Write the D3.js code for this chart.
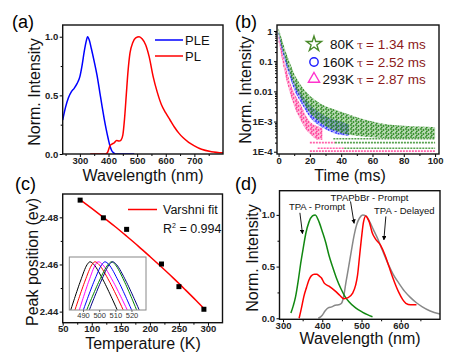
<!DOCTYPE html>
<html>
<head>
<meta charset="utf-8">
<script src="https://cdn.jsdelivr.net/npm/d3@7"></script>
<style>
body { margin: 0; background: #fff; }
svg { font-family: Arial, "Liberation Sans", sans-serif; }
</style>
</head>
<body>
<div id="chart-area"></div>
<script>
/*
*    four panel figure: spectra, decays, peak shift
*/

// (a) excitation / emission spectra
var pleWl  = [240, 250, 260, 270, 280, 290, 300, 308, 315, 322, 327, 333, 340, 350, 360, 370, 378, 385, 392, 399, 405, 411, 418, 425, 490];
var pleInt = [0.29, 0.40, 0.48, 0.53, 0.56, 0.60, 0.66, 0.76, 0.87, 0.96, 1.0, 0.97, 0.90, 0.79, 0.67, 0.52, 0.40, 0.30, 0.21, 0.13, 0.07, 0.03, 0.01, 0, 0];
var plWl  = [336, 390, 398, 405, 412, 420, 428, 437, 444, 450, 456, 462, 468, 475, 485, 495, 507, 518, 530, 542, 556, 570, 585, 600, 615, 630, 645, 660, 680, 700, 725, 760, 800];
var plInt = [0, 0, 0.02, 0.07, 0.085, 0.095, 0.115, 0.11, 0.12, 0.16, 0.30, 0.50, 0.70, 0.86, 0.95, 0.99, 1.0, 0.98, 0.93, 0.83, 0.66, 0.53, 0.42, 0.35, 0.29, 0.23, 0.18, 0.14, 0.10, 0.07, 0.04, 0.02, 0.01];

// (b) decay clouds: time (ms), upper and lower edge of the scatter
var t80  = [0, 1, 2, 4, 6, 8, 10, 13, 16, 20, 25, 30, 35, 40, 50, 60, 70, 80, 90, 100];
var hi80 = [1.25, 0.85, 0.55, 0.26, 0.13, 0.07, 0.038, 0.02, 0.012, 0.0072, 0.0045, 0.0032, 0.0026, 0.0021, 0.0014, 0.001, 0.0008, 0.00072, 0.00068, 0.00065];
var lo80 = [0.85, 0.5, 0.3, 0.13, 0.06, 0.03, 0.016, 0.008, 0.0042, 0.0019, 0.0011, 0.0007, 0.00052, 0.00042, 0.00034, 0.0003, 0.00028, 0.00028, 0.00028, 0.00028];
var t160  = [0, 1, 2, 4, 6, 8, 10, 13, 16, 20, 25, 30, 35, 40, 45];
var hi160 = [1.0, 0.6, 0.4, 0.17, 0.08, 0.04, 0.022, 0.011, 0.0065, 0.0036, 0.0022, 0.0015, 0.0012, 0.001, 0.0008];
var lo160 = [0.7, 0.4, 0.25, 0.1, 0.045, 0.022, 0.011, 0.0055, 0.003, 0.0014, 0.0008, 0.00055, 0.00042, 0.00036, 0.00034];
var t293  = [0, 1, 2, 4, 6, 8, 10, 12, 15, 18, 21, 25, 28];
var hi293 = [0.7, 0.45, 0.26, 0.09, 0.035, 0.016, 0.009, 0.0055, 0.003, 0.0014, 0.0009, 0.0007, 0.0006];
var lo293 = [0.45, 0.25, 0.13, 0.04, 0.015, 0.0065, 0.0032, 0.0018, 0.0009, 0.0005, 0.00035, 0.00025, 0.00025];
// count floor rows at the bottom of the decays
var floorLevel = [2.7e-4, 2.0e-4, 2.0e-4, 1.3e-4, 1.3e-4, 1.05e-4];
var floorStart = [35, 20, 36, 25, 42, 20];
var floorEnd   = [100, 36, 100, 42, 100, 100];
var floorSeries = ["80K", "293K", "80K", "293K", "80K", "293K"];
var decayNames = ["80K", "160K", "293K"];
var decayTau = ["1.34", "2.52", "2.87"];

// (c) peak position vs temperature
var tempK = [80, 120, 160, 220, 250, 293];
var peakEv = [2.4873, 2.4798, 2.4749, 2.4602, 2.4506, 2.4410];
var fitT  = [80, 100, 120, 140, 160, 180, 200, 220, 240, 260, 280, 293];
var fitEv = [2.4875, 2.4838, 2.4800, 2.4761, 2.4720, 2.4678, 2.4634, 2.4589, 2.4543, 2.4495, 2.4446, 2.4413];
// inset: normalised spectra near the peak
var insetInt = [0.5, 0.8, 0.97, 1.0, 0.97, 0.8, 0.5];
var insetWl = [
    [482.4, 488.4, 492.5, 494.3, 496.8, 502.8, 511.2],
    [485.0, 491.2, 495.5, 497.4, 500.0, 506.2, 514.9],
    [487.7, 493.6, 497.7, 499.5, 502.2, 508.5, 517.4],
    [490.2, 496.9, 501.6, 503.6, 506.1, 511.9, 520.1],
    [492.3, 500.0, 505.4, 507.7, 510.0, 515.5, 523.2],
    [493.9, 501.2, 506.2, 508.4, 510.8, 516.6, 524.8]
];

// (d) TPA / TPAPbBr spectra
var tpaWl  = [320, 326, 332, 339, 345, 352, 358, 366, 375, 382, 392, 400, 409, 417, 426, 436, 447, 458, 468, 485, 502, 515, 528];
var tpaInt = [0.05, 0.12, 0.21, 0.37, 0.53, 0.69, 0.82, 0.93, 0.99, 1.0, 0.93, 0.84, 0.73, 0.61, 0.50, 0.39, 0.29, 0.21, 0.16, 0.10, 0.06, 0.035, 0.015];
var delWl  = [341, 347, 353, 360, 366, 372, 380, 386, 392, 398, 405, 417, 434, 445, 455, 466, 477, 485, 490, 495, 500, 505, 511, 515, 520, 527, 535, 548, 560, 570, 580, 595, 605, 613, 625, 640];
var delInt = [0.0, 0.10, 0.21, 0.30, 0.37, 0.41, 0.425, 0.425, 0.41, 0.39, 0.34, 0.31, 0.26, 0.22, 0.19, 0.20, 0.24, 0.32, 0.42, 0.60, 0.78, 0.93, 0.99, 0.97, 0.93, 0.83, 0.77, 0.71, 0.61, 0.50, 0.39, 0.25, 0.18, 0.145, 0.13, 0.13];
var pbWl  = [390, 400, 407, 415, 424, 433, 441, 449, 455, 460, 466, 474, 481, 488, 495, 503, 511, 520, 530, 540, 553, 565, 580, 595, 610, 625, 640, 655, 675, 700];
var pbInt = [0, 0.03, 0.07, 0.10, 0.11, 0.125, 0.13, 0.145, 0.22, 0.34, 0.47, 0.65, 0.80, 0.91, 0.97, 1.0, 0.99, 0.94, 0.86, 0.78, 0.66, 0.55, 0.43, 0.34, 0.26, 0.20, 0.15, 0.11, 0.07, 0.04];
var labelText = ["TPA - Prompt", "TPAPbBr - Prompt", "TPA - Delayed"];
var labelWl   = [315, 421, 532];
var labelY    = [1.08, 1.17, 1.04];
var arrowFrom = [[343, 1.02], [472, 1.13], [562, 0.985]];
var arrowTo   = [[349.6, 0.82], [481, 0.92], [557, 0.76]];

var svg = d3.select("#chart-area")
    .append("svg")
    .attr("width", 459)
    .attr("height", 354);

var defs = svg.append("defs");
defs.append("marker")
    .attr("id", "arr")
    .attr("viewBox", "0 0 6 6")
    .attr("refX", 5).attr("refY", 3)
    .attr("markerWidth", 5).attr("markerHeight", 5)
    .attr("orient", "auto")
  .append("path")
    .attr("d", "M0,0 L6,3 L0,6 z")
    .attr("fill", "#000");

function zip(xs, ys) {
    return xs.map((d, i) => [d, ys[i]]);
}

function axes(x, y, opt) {
    var g = svg.append("g");
    var b = y.range()[0], t = y.range()[1];
    var l = x.range()[0], r = x.range()[1];
    var xa = d3.axisBottom(x).tickValues(opt.xt).tickSize(3).tickSizeOuter(0).tickPadding(0);
    if (opt.xf) xa.tickFormat(opt.xf);
    g.append("g").attr("transform", "translate(0," + b + ")").call(xa);
    if (opt.xm) {
        g.append("g").attr("transform", "translate(0," + b + ")")
            .call(d3.axisBottom(x).tickValues(opt.xm).tickSize(2).tickSizeOuter(0).tickFormat(""));
    }
    var ya = d3.axisLeft(y).tickValues(opt.yt).tickSize(3).tickSizeOuter(0).tickPadding(1.5);
    if (opt.yf) ya.tickFormat(opt.yf);
    g.append("g").attr("transform", "translate(" + l + ",0)").call(ya);
    if (opt.ym) {
        g.append("g").attr("transform", "translate(" + l + ",0)")
            .call(d3.axisLeft(y).tickValues(opt.ym).tickSize(2).tickSizeOuter(0).tickFormat(""));
    }
    g.selectAll(".domain").remove();
    g.selectAll(".tick line").attr("stroke", "#000").attr("stroke-width", 1);
    g.selectAll(".tick text")
        .attr("font-size", "9.5px")
        .attr("font-weight", "bold")
        .attr("fill", "#222")
        .attr("font-family", "Arial, 'Liberation Sans', sans-serif");
    // plot frame
    svg.append("rect")
        .attr("x", l).attr("y", t)
        .attr("width", r - l).attr("height", b - t)
        .attr("fill", "none")
        .attr("stroke", "#111")
        .attr("stroke-width", 1.4);
}

function title(x, y, txt, rot) {
    svg.append("text")
        .attr("transform", "translate(" + x + "," + y + ")" + (rot ? " rotate(-90)" : ""))
        .attr("text-anchor", "middle")
        .attr("font-size", "16px")
        .attr("fill", "#111")
        .text(txt);
}

function clip(id, x, y) {
    svg.append("clipPath").attr("id", id)
        .append("rect")
        .attr("x", x.range()[0]).attr("y", y.range()[1])
        .attr("width", x.range()[1] - x.range()[0])
        .attr("height", y.range()[0] - y.range()[1]);
}

// ---------------- (a) ----------------
var ax = d3.scaleLinear().domain([240, 800]).range([62.7, 223]);
var ay = d3.scaleLinear().domain([0, 1.1]).range([154, 25]);
clip("ca", ax, ay);
var aLine = d3.line().x((d) => ax(d[0])).y((d) => ay(d[1])).curve(d3.curveMonotoneX);
var ga = svg.append("g").attr("clip-path", "url(#ca)");
ga.append("path").attr("d", aLine(zip(pleWl, pleInt)))
    .attr("fill", "none").attr("stroke", "#0000ff").attr("stroke-width", 1.5);
ga.append("path").attr("d", aLine(zip(plWl, plInt)))
    .attr("fill", "none").attr("stroke", "#ff0000").attr("stroke-width", 1.5);
axes(ax, ay, {
    xt: [300, 400, 500, 600, 700], xm: [250, 350, 450, 550, 650, 750],
    yt: [0, 0.5, 1.0], ym: [0.25, 0.75], yf: d3.format(".1f")
});
[["PLE", "#0000ff", 40], ["PL", "#ff0000", 56]].forEach((d) => {
    svg.append("line").attr("x1", 155).attr("x2", 183).attr("y1", d[2]).attr("y2", d[2])
        .attr("stroke", d[1]).attr("stroke-width", 1.5);
    svg.append("text").attr("x", 185).attr("y", d[2] + 4.5)
        .attr("font-size", "13px").attr("fill", "#111").text(d[0]);
});
title(40, 92, "Norm. Intensity", true);
title(143, 180.5, "Wavelength (nm)");
svg.append("text").attr("x", 12).attr("y", 28).attr("font-size", "18px").text("(a)");

// ---------------- (b) ----------------
var bx = d3.scaleLinear().domain([-1, 102.5]).range([277, 439]);
var by = d3.scaleLog().domain([8.4e-5, 1.58]).range([154, 25]);
clip("cb", bx, by);
var colB = { "80K": "#2e8b22", "160K": "#2b2bff", "293K": "#ff3c96" };
// speckle texture for the dense scatter clouds
Object.keys(colB).forEach((k) => {
    var p = defs.append("pattern")
        .attr("id", "sp" + k)
        .attr("patternUnits", "userSpaceOnUse")
        .attr("width", 5).attr("height", 4);
    p.append("rect").attr("width", 5).attr("height", 4)
        .attr("fill", colB[k]).attr("fill-opacity", 0.35);
    [[1, 1], [3.5, 2], [1.8, 3.4]].forEach((c) => {
        p.append("circle").attr("cx", c[0]).attr("cy", c[1]).attr("r", 0.9)
            .attr("fill", colB[k]);
    });
});
var gb = svg.append("g").attr("clip-path", "url(#cb)");
var band = d3.area()
    .x((d) => bx(d[0]))
    .y0((d) => by(d[2]))
    .y1((d) => by(d[1]))
    .curve(d3.curveMonotoneX);
var bands = [
    ["293K", t293, hi293, lo293],
    ["160K", t160, hi160, lo160],
    ["80K", t80, hi80, lo80]
];
floorLevel.forEach((lv, i) => {
    gb.append("line")
        .attr("x1", bx(floorStart[i])).attr("x2", bx(floorEnd[i]))
        .attr("y1", by(lv)).attr("y2", by(lv))
        .attr("stroke", colB[floorSeries[i]])
        .attr("stroke-width", 1.6)
        .attr("stroke-dasharray", "2,1")
        .attr("opacity", 0.8);
});
bands.forEach((s) => {
    var pts = s[1].map((t, i) => [t, s[2][i], s[3][i]]);
    gb.append("path").attr("d", band(pts))
        .attr("fill", "url(#sp" + s[0] + ")");
});
axes(bx, by, {
    xt: [0, 20, 40, 60, 80, 100], xm: [10, 30, 50, 70, 90],
    yt: [1, 0.1, 0.01, 1e-3, 1e-4],
    ym: [2e-4, 3e-4, 4e-4, 5e-4, 6e-4, 7e-4, 8e-4, 9e-4, 2e-3, 3e-3, 4e-3, 5e-3, 6e-3, 7e-3, 8e-3, 9e-3,
         0.02, 0.03, 0.04, 0.05, 0.06, 0.07, 0.08, 0.09, 0.2, 0.3, 0.4, 0.5, 0.6, 0.7, 0.8, 0.9],
    yf: (d) => d >= 0.01 ? String(d) : "1E" + Math.round(Math.log10(d))
});
var symB = [d3.symbolStar, d3.symbolCircle, d3.symbolTriangle];
var symCol = ["#4a8a2a", "#1a1aff", "#ff33cc"];
var rowY = [44, 62, 79];
decayNames.forEach((n, i) => {
    svg.append("path")
        .attr("d", d3.symbol().type(symB[i]).size(i == 0 ? 70 : 55)())
        .attr("transform", "translate(314," + rowY[i] + ")")
        .attr("fill", "none").attr("stroke", symCol[i]).attr("stroke-width", 1.4);
    svg.append("text").attr("x", 354).attr("y", rowY[i] + 5)
        .attr("font-size", "13.5px").attr("text-anchor", "end").attr("fill", "#111").text(n);
    var t2 = svg.append("text").attr("x", 357).attr("y", rowY[i] + 5).attr("font-size", "13.5px");
    t2.append("tspan").attr("fill", "#8b1a1a").attr("font-family", "'DejaVu Serif', serif").attr("font-size", "11px").text("\u03c4");
    t2.append("tspan").attr("fill", "#8b1a1a").attr("dx", 3).text("= " + decayTau[i] + " ms");
});
title(251, 90, "Norm. Intensity", true);
title(350, 180.5, "Time (ms)");
svg.append("text").attr("x", 235).attr("y", 28).attr("font-size", "18px").text("(b)");

// ---------------- (c) ----------------
var cx = d3.scaleLinear().domain([50, 325]).range([62.7, 222.5]);
var cy = d3.scaleLinear().domain([2.4353, 2.4899]).range([322.7, 194]);
// inset
var ix = d3.scaleLinear().domain([481.5, 529]).range([69.3, 146]);
var iy = d3.scaleLinear().domain([0.5, 1.05]).range([310, 257]);
clip("ci", ix, iy);
var insetCol = ["#000000", "#ff0000", "#ff00ff", "#0000ff", "#008000", "#000080"];
var gi = svg.append("g").attr("clip-path", "url(#ci)");
var iLine = d3.line().x((d) => ix(d[0])).y((d) => iy(d[1])).curve(d3.curveCatmullRom);
insetWl.forEach((w, i) => {
    gi.append("path").attr("d", iLine(zip(w, insetInt)))
        .attr("fill", "none").attr("stroke", insetCol[i]).attr("stroke-width", 1);
});
svg.append("rect")
    .attr("x", 69.3).attr("y", 257).attr("width", 146 - 69.3).attr("height", 310 - 257)
    .attr("fill", "none").attr("stroke", "#888").attr("stroke-width", 1);
var gia = svg.append("g").attr("transform", "translate(0,310)")
    .call(d3.axisBottom(ix).tickValues([490, 500, 510, 520]).tickSize(2).tickSizeOuter(0).tickPadding(1));
gia.select(".domain").remove();
gia.selectAll(".tick line").attr("stroke", "#666");
gia.selectAll(".tick text").attr("font-size", "7.5px").attr("fill", "#333");

var cLine = d3.line().x((d) => cx(d[0])).y((d) => cy(d[1])).curve(d3.curveMonotoneX);
svg.append("path").attr("d", cLine(zip(fitT, fitEv)))
    .attr("fill", "none").attr("stroke", "#ff0000").attr("stroke-width", 1.5);
svg.selectAll(".pk").data(zip(tempK, peakEv)).enter()
    .append("rect")
        .attr("x", (d) => cx(d[0]) - 2.5)
        .attr("y", (d) => cy(d[1]) - 2.5)
        .attr("width", 5).attr("height", 5)
        .attr("fill", "#000");
axes(cx, cy, {
    xt: [50, 100, 150, 200, 250, 300], xm: [75, 125, 175, 225, 275],
    yt: [2.44, 2.46, 2.48], ym: [2.45, 2.47], yf: d3.format(".2f")
});
svg.append("line").attr("x1", 128).attr("x2", 157).attr("y1", 209.5).attr("y2", 209.5)
    .attr("stroke", "#ff0000").attr("stroke-width", 1.5);
svg.append("text").attr("x", 163).attr("y", 214).attr("font-size", "12.5px").attr("fill", "#111").text("Varshni fit");
var r2 = svg.append("text").attr("x", 163).attr("y", 233).attr("font-size", "12.5px").attr("fill", "#111");
r2.append("tspan").text("R");
r2.append("tspan").attr("font-size", "7px").attr("dy", -5).text("2");
r2.append("tspan").attr("dy", 5).text(" = 0.994");
title(38, 262, "Peak position (ev)", true);
title(143, 348.5, "Temperature (K)");
svg.append("text").attr("x", 15).attr("y", 190).attr("font-size", "18px").text("(c)");

// ---------------- (d) ----------------
var dx = d3.scaleLinear().domain([291, 700]).range([279.5, 440]);
var dy = d3.scaleLinear().domain([-0.01, 1.234]).range([319.3, 190.7]);
clip("cd", dx, dy);
var dLine = d3.line().x((d) => dx(d[0])).y((d) => dy(d[1])).curve(d3.curveMonotoneX);
var gd = svg.append("g").attr("clip-path", "url(#cd)");
gd.append("path").attr("d", dLine(zip(pbWl, pbInt)))
    .attr("fill", "none").attr("stroke", "#888888").attr("stroke-width", 1.5);
gd.append("path").attr("d", dLine(zip(tpaWl, tpaInt)))
    .attr("fill", "none").attr("stroke", "#118811").attr("stroke-width", 1.5);
gd.append("path").attr("d", dLine(zip(delWl, delInt)))
    .attr("fill", "none").attr("stroke", "#ff0000").attr("stroke-width", 1.5);
axes(dx, dy, {
    xt: [300, 400, 500, 600], xm: [350, 450, 550, 650],
    yt: [0, 0.5, 1.0], ym: [0.25, 0.75], yf: d3.format(".1f")
});
labelText.forEach((s, i) => {
    svg.append("text").attr("x", dx(labelWl[i])).attr("y", dy(labelY[i]) + 3.5)
        .attr("font-size", "9.5px").attr("fill", "#111").text(s);
    svg.append("line")
        .attr("x1", dx(arrowFrom[i][0])).attr("y1", dy(arrowFrom[i][1]))
        .attr("x2", dx(arrowTo[i][0])).attr("y2", dy(arrowTo[i][1]))
        .attr("stroke", "#000").attr("stroke-width", 0.9)
        .attr("marker-end", "url(#arr)");
});
title(258, 258, "Norm. Intensity", true);
title(360, 344, "Wavelength (nm)");
svg.append("text").attr("x", 235).attr("y", 190).attr("font-size", "18px").text("(d)");
</script>
</body>
</html>
